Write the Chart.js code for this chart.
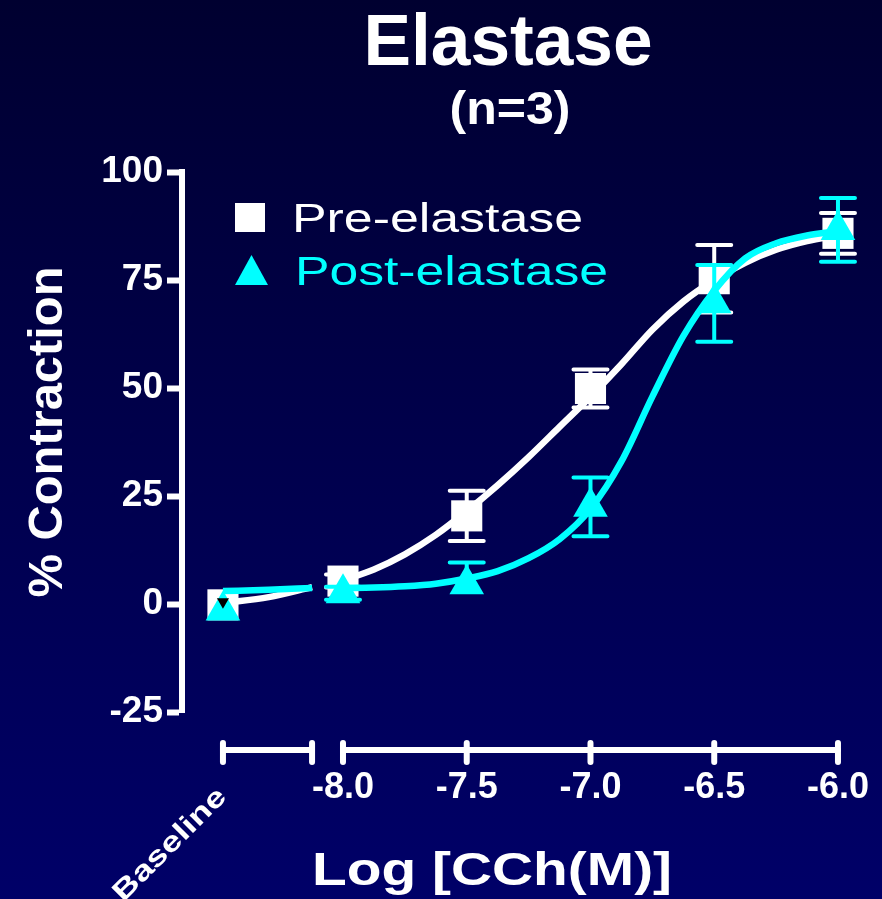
<!DOCTYPE html>
<html>
<head>
<meta charset="utf-8">
<script src="https://cdn.jsdelivr.net/npm/chart.js@4.4.1/dist/chart.umd.min.js"></script>
<style>
  html, body { margin: 0; padding: 0; }
  body { width: 882px; height: 899px; background: linear-gradient(#000030, #000068); overflow: hidden; }
  canvas { display: block; }
</style>
</head>
<body>
<canvas id="myChart" width="882" height="899"></canvas>
<script>
// x positions (log molar), baseline sits left of the axis break
const xBaseline = -8.485;
const xBreak = -8.125;
const xTicks = [-8.0, -7.5, -7.0, -6.5, -6.0];
const xTickLabels = ['-8.0', '-7.5', '-7.0', '-6.5', '-6.0'];

// measured points (mean, sem above, sem below)
const doseX = [xBaseline, -8.0, -7.5, -7.0, -6.5, -6.0];
const preMean = [-0.2, 5.3, 20.4, 49.9, 75.3, 85.8];
const preSemUp = [0, 1.5, 5.8, 4.4, 7.8, 4.7];
const preSemDown = [0, 1.5, 5.8, 4.4, 7.8, 4.7];
const postMean = [-1.5, 2.5, 4.6, 22.5, 69.6, 86.6];
const postSemUp = [0, 1.5, 5.0, 6.8, 8.9, 7.4];
const postSemDown = [0, 1.5, 0, 6.8, 8.9, 7.4];

// fitted curves
const baseCurveX = [xBaseline, -8.3, xBreak];
const preBaseCurve = [0.2, 1.6, 3.9];
const postBaseCurve = [3.0, 3.3, 3.7];
const curveX = [-8.0, -7.875, -7.75, -7.625, -7.5, -7.375, -7.25, -7.125, -7.0,
                -6.875, -6.75, -6.625, -6.5, -6.375, -6.25, -6.125, -6.0];
const preCurve = [5.5, 8, 11.5, 16, 21.5, 27.5, 34, 41, 48, 55.5, 63.5, 70, 75, 79, 82, 84, 85.3];
const postCurve = [3.7, 3.8, 4.1, 4.7, 5.9, 7.6, 10.6, 15, 22, 33, 48, 62, 72.5, 80, 83.5, 85.3, 86.3];

const WHITE = '#ffffff';
const CYAN = '#00ffff';
const FONT = "'Liberation Sans', Arial, sans-serif";

function toPoints(xs, ys){
  return xs.map((x, i) => ({x: x, y: ys[i]}));
}

// baseline segment, a gap, then the main curve
function curvePoints(baseYs, ys){
  return toPoints(baseCurveX, baseYs)
    .concat([{x: (xBreak - 8) / 2, y: null}])
    .concat(toPoints(curveX, ys));
}

// draw text squeezed/stretched to a given width
function fitText(ctx, text, x, y, font, width, align){
  ctx.save();
  ctx.font = font;
  const w = ctx.measureText(text).width;
  ctx.translate(x, y);
  ctx.scale(width / w, 1);
  ctx.textAlign = align;
  ctx.fillText(text, 0, 0);
  ctx.restore();
}

const errorBars = {
  id: 'errorBars',
  beforeDatasetDraw(chart, args){
    const ds = chart.data.datasets[args.index];
    if (!ds.errUp) return;
    const ctx = chart.ctx;
    const xs = chart.scales.x, ys = chart.scales.y;
    ctx.save();
    ctx.strokeStyle = ds.pointBackgroundColor;
    ctx.lineWidth = 4;
    ctx.lineCap = 'round';
    ds.data.forEach((p, i) => {
      const up = ds.errUp[i], down = ds.errDown[i];
      const px = xs.getPixelForValue(p.x);
      const mid = ys.getPixelForValue(p.y);
      ctx.beginPath();
      if (up) {
        const top = ys.getPixelForValue(p.y + up);
        ctx.moveTo(px, mid); ctx.lineTo(px, top);
        ctx.moveTo(px - 17, top); ctx.lineTo(px + 17, top);
      }
      if (down) {
        const bot = ys.getPixelForValue(p.y - down);
        ctx.moveTo(px, mid); ctx.lineTo(px, bot);
        ctx.moveTo(px - 17, bot); ctx.lineTo(px + 17, bot);
      }
      ctx.stroke();
    });
    ctx.restore();
  }
};

const decorations = {
  id: 'decorations',
  afterDraw(chart){
    const ctx = chart.ctx;
    const xs = chart.scales.x;
    const axisY = 750;
    ctx.save();
    ctx.fillStyle = WHITE;
    ctx.strokeStyle = WHITE;
    ctx.textBaseline = 'alphabetic';

    // titles
    fitText(ctx, 'Elastase', 508, 65, 'bold 73px ' + FONT, 289, 'center');
    fitText(ctx, '(n=3)', 510, 124, 'bold 47px ' + FONT, 121, 'center');

    // broken x axis
    ctx.lineWidth = 6;
    ctx.lineCap = 'round';
    const segs = [[xBaseline, xBreak], [xTicks[0], xTicks[xTicks.length - 1]]];
    segs.forEach(s => {
      ctx.beginPath();
      ctx.moveTo(xs.getPixelForValue(s[0]), axisY);
      ctx.lineTo(xs.getPixelForValue(s[1]), axisY);
      ctx.stroke();
    });
    [xBaseline, xBreak].concat(xTicks).forEach(v => {
      const px = xs.getPixelForValue(v);
      ctx.beginPath();
      ctx.moveTo(px, axisY - 7);
      ctx.lineTo(px, axisY + 12);
      ctx.stroke();
    });

    ctx.font = 'bold 36px ' + FONT;
    ctx.textAlign = 'center';
    xTicks.forEach((v, i) => {
      ctx.fillText(xTickLabels[i], xs.getPixelForValue(v), 798);
    });

    // rotated baseline label
    ctx.save();
    ctx.translate(xs.getPixelForValue(xBaseline) + 5, 798);
    ctx.rotate(-Math.PI / 4);
    fitText(ctx, 'Baseline', 0, 0, 'bold 28px ' + FONT, 148, 'right');
    ctx.restore();

    // axis titles
    fitText(ctx, 'Log [CCh(M)]', 492, 885, 'bold 47px ' + FONT, 360, 'center');
    ctx.save();
    ctx.translate(62, 432);
    ctx.rotate(-Math.PI / 2);
    fitText(ctx, '% Contraction', 0, 0, 'bold 49px ' + FONT, 331, 'center');
    ctx.restore();

    // legend
    ctx.fillStyle = WHITE;
    ctx.fillRect(235, 203, 30, 29);
    fitText(ctx, 'Pre-elastase', 292, 232, '40px ' + FONT, 291, 'left');
    ctx.fillStyle = CYAN;
    ctx.beginPath();
    ctx.moveTo(251.5, 255);
    ctx.lineTo(268, 285);
    ctx.lineTo(235, 285);
    ctx.closePath();
    ctx.fill();
    fitText(ctx, 'Post-elastase', 295, 285, '40px ' + FONT, 313, 'left');

    ctx.restore();
  }
};

function makeChart(){
  const data = {
    datasets: [
      {
        label: 'Pre-elastase fit',
        type: 'line',
        data: curvePoints(preBaseCurve, preCurve),
        borderColor: WHITE,
        borderWidth: 6.5,
        pointRadius: 0,
        cubicInterpolationMode: 'monotone',
        spanGaps: false,
        clip: false,
        order: 5
      },
      {
        label: 'Pre-elastase',
        type: 'scatter',
        data: toPoints(doseX, preMean),
        errUp: preSemUp,
        errDown: preSemDown,
        pointStyle: 'rect',
        pointRadius: 22,
        pointHoverRadius: 22,
        pointBackgroundColor: WHITE,
        pointBorderColor: WHITE,
        pointBorderWidth: 0,
        clip: false,
        order: 4
      },
      {
        label: 'Post-elastase fit',
        type: 'line',
        data: curvePoints(postBaseCurve, postCurve),
        borderColor: CYAN,
        borderWidth: 6.5,
        pointRadius: 0,
        cubicInterpolationMode: 'monotone',
        spanGaps: false,
        clip: false,
        order: 3
      },
      {
        label: 'Post-elastase',
        type: 'scatter',
        data: toPoints(doseX, postMean),
        errUp: postSemUp,
        errDown: postSemDown,
        pointStyle: 'triangle',
        pointRadius: 20,
        pointHoverRadius: 20,
        pointBackgroundColor: CYAN,
        pointBorderColor: CYAN,
        pointBorderWidth: 0,
        clip: false,
        order: 2
      },
      {
        label: 'marker',
        type: 'scatter',
        data: [{x: xBaseline, y: 0.5}],
        pointStyle: 'triangle',
        pointRotation: 180,
        pointRadius: 7,
        pointBackgroundColor: '#000000',
        pointBorderWidth: 0,
        clip: false,
        order: 1
      }
    ]
  };

  return new Chart(document.getElementById('myChart'), {
    type: 'scatter',
    data: data,
    plugins: [errorBars, decorations],
    options: {
      responsive: false,
      animation: false,
      devicePixelRatio: 1,
      layout: { padding: { top: 172, bottom: 187, left: 0, right: 22 } },
      plugins: {
        legend: { display: false },
        tooltip: { enabled: false }
      },
      scales: {
        x: {
          type: 'linear',
          display: false,
          min: -8.6505,
          max: -5.911
        },
        y: {
          min: -25,
          max: 100,
          afterFit: scale => { scale.width = 182; },
          ticks: {
            stepSize: 25,
            color: WHITE,
            padding: 4,
            font: { family: FONT, size: 37, weight: 'bold' }
          },
          grid: {
            drawOnChartArea: false,
            drawTicks: true,
            tickLength: 15,
            tickWidth: 6,
            tickColor: WHITE
          },
          border: { display: true, color: WHITE, width: 6 }
        }
      }
    }
  });
}

makeChart();
</script>
</body>
</html>
